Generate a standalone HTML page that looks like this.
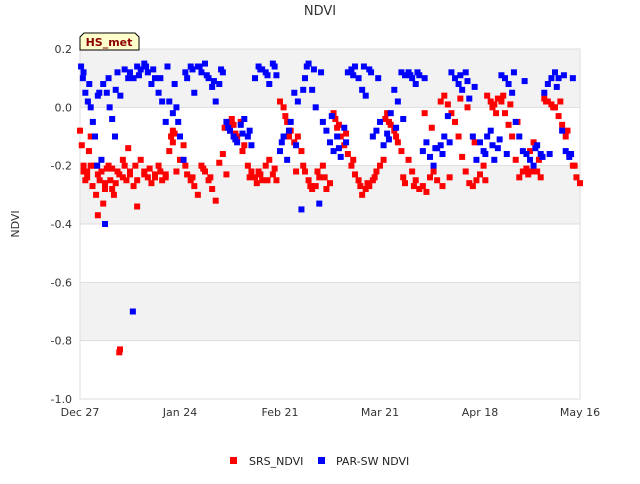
<!DOCTYPE html>
<html><head><meta charset="utf-8"><style>
body{margin:0;background:#fff;font-family:"DejaVu Sans","Liberation Sans",sans-serif;}
svg text{font-family:"DejaVu Sans","Liberation Sans",sans-serif;}
</style></head><body>
<svg id="c" width="640" height="480" xmlns="http://www.w3.org/2000/svg">
<text x="320" y="15" text-anchor="middle" font-size="13" fill="#333">NDVI</text>
<text x="19" y="224" text-anchor="middle" font-size="11" fill="#333" transform="rotate(-90 19 224)">NDVI</text>
<g id="bands"></g><g id="grid"></g><g id="pts"></g><g id="axes"></g>
<g>
<path d="M84,33 L135,33 L139,37 L139,50 L80,50 L80,37 Z" fill="#ffffcc" stroke="#000" stroke-width="1"/>
<text x="109" y="46" text-anchor="middle" font-size="11" font-weight="bold" fill="#8b0000">HS_met</text>
</g>
<g>
<rect x="230" y="457" width="7" height="7" fill="#f00"/>
<text x="249" y="465" font-size="11" fill="#222">SRS_NDVI</text>
<rect x="318" y="457" width="7" height="7" fill="#00f"/>
<text x="336" y="465" font-size="11" fill="#222">PAR-SW NDVI</text>
</g>
</svg>
<script>
const yTicks=[0.2,0,-0.2,-0.4,-0.6,-0.8,-1.0];
const xTickLabels=["Dec 27","Jan 24","Feb 21","Mar 21","Apr 18","May 16"];
const xTickDays=[0,28,56,84,112,140];
const srsDays=[0,0.5,1,1.5,2,2.5,3,3.5,4,4.5,5,5.5,6,6.5,7,7.5,8,8.5,9,9.5,10,10.5,11,11.2,11,12,12.5,13,13.5,14,15,15.5,16,17,18,19,20,21,22,23,24,25,25.5,26,26.5,27,28,29,30,31,33,34,35,36,37,38,39,40,41,42,42.5,43,44,45,46,47,48,49,49.5,50,51,52,53,54,55,56,57,58,59,60,61,62,62.5,63,64,65,66,67,68,70,71,71.5,72,73,74,75,76,77,78,79,80,81,82,83,84,85,85.5,86,87,88,89,90,92,93,94,95,96,97,98,99,100,101,102,103,104,105,106,107,108,109,110,111,112,113,114,115,115.5,116,117,118,119,120,121,122,123,124,125,125.5,126,127,128,129,130,131,132,133,134,135,136,137,138,139,140];
const srsValues=[-0.08,-0.13,-0.2,-0.25,-0.22,-0.15,-0.1,-0.27,-0.2,-0.3,-0.37,-0.25,-0.22,-0.33,-0.28,-0.21,-0.2,-0.25,-0.28,-0.3,-0.26,-0.22,-0.84,-0.83,-0.23,-0.18,-0.2,-0.25,-0.14,-0.23,-0.27,-0.2,-0.34,-0.18,-0.22,-0.24,-0.26,-0.23,-0.2,-0.25,-0.24,-0.15,-0.1,-0.08,-0.09,-0.22,-0.18,-0.13,-0.23,-0.25,-0.3,-0.2,-0.22,-0.25,-0.28,-0.32,-0.19,-0.16,-0.23,-0.08,-0.04,-0.06,-0.1,-0.05,-0.13,-0.2,-0.22,-0.24,-0.26,-0.22,-0.25,-0.2,-0.18,-0.23,-0.25,0.02,0.0,-0.05,-0.08,-0.12,-0.1,-0.15,-0.2,-0.22,-0.25,-0.28,-0.27,-0.24,-0.2,-0.26,-0.02,-0.04,-0.07,-0.1,-0.13,-0.16,-0.2,-0.23,-0.25,-0.3,-0.28,-0.27,-0.25,-0.22,-0.2,-0.18,-0.04,-0.02,-0.06,-0.08,-0.12,-0.15,-0.18,-0.22,-0.25,-0.28,-0.27,-0.29,-0.24,-0.22,-0.25,0.02,0.04,0.01,-0.02,-0.05,-0.1,-0.17,-0.22,-0.26,-0.27,-0.25,-0.23,-0.2,0.04,0.02,0.0,0.01,0.03,0.02,-0.02,-0.06,-0.1,-0.18,-0.24,-0.22,-0.21,-0.23,-0.15,-0.12,-0.22,-0.24,0.03,0.02,0.01,0.0,-0.03,-0.06,-0.1,-0.16,-0.2,-0.24,-0.26,-0.22,-0.19,-0.25,-0.21];
const srsExtraDays=[1,2,3,5,7,9,12,14,16,18,19.5,21,22.5,24,26,29.5,31.5,32,34.5,36.5,40.5,41.5,43.5,45.5,47.5,50.5,52.5,54.5,57.5,58.5,60.5,64.5,66.5,68.5,69,72.5,74.5,76.5,78.5,80.5,82.5,86.5,88.5,90.5,91,93.5,96.5,98.5,101.5,103.5,106.5,108.5,110.5,113.5,116.5,118.5,120.5,122.5,126.5,128.5,130.5,132.5,134.5,136.5,138.5];
const srsExtraValues=[-0.22,-0.24,-0.2,-0.23,-0.26,-0.21,-0.24,-0.22,-0.25,-0.23,-0.21,-0.24,-0.22,-0.23,-0.12,-0.2,-0.24,-0.27,-0.21,-0.24,-0.07,-0.05,-0.09,-0.15,-0.24,-0.23,-0.25,-0.21,-0.03,-0.1,-0.22,-0.27,-0.22,-0.24,-0.28,-0.06,-0.09,-0.18,-0.27,-0.26,-0.24,-0.05,-0.1,-0.24,-0.26,-0.27,-0.02,-0.07,-0.27,-0.24,0.03,0.0,-0.12,-0.25,-0.02,0.04,0.01,-0.05,-0.22,-0.18,0.02,0.0,0.02,-0.08,-0.2];
const parDays=[0.3,0.8,1.5,2.2,3,3.6,4.2,4.8,5.4,6,6.5,7.5,8.3,9,9.8,10.5,11.3,7,14.8,14,15,16,17,18,19,20,21,22,23,24,25,26,27,27.5,28,29,30,31,32,33,34,35,36,37,38,39,40,41,42,43,44,45,46,47,47.5,48,49,50,51,52,53,54,55,56,56.5,57,58,59,60,61,62,63,63.5,64,65,66,67,68,69,70,71,72,73,74,75,76,77,78,79,80,81,82,83,84,85,86,87,88,89,90,91,92,93,94,95,96,97,98,99,100,101,102,103,104,105,106,107,108,109,110,111,112,113,114,115,116,117,118,119,120,121,122,123,124,125,126,127,128,129,130,131,132,133,134,135,136,137,138,139];
const parValues=[0.14,0.1,0.05,0.02,0.0,-0.05,-0.1,-0.2,0.05,-0.18,0.08,0.05,0.0,-0.04,-0.1,0.12,0.04,-0.4,-0.7,0.12,0.1,0.14,0.13,0.15,0.12,0.08,0.1,0.05,0.02,-0.05,0.02,-0.02,0.0,-0.05,-0.1,-0.18,0.1,0.14,0.05,0.14,0.12,0.15,0.1,0.07,0.02,0.08,0.12,-0.05,-0.08,-0.1,-0.12,-0.06,-0.04,-0.1,-0.08,-0.13,0.1,0.14,0.13,0.12,0.08,0.15,0.11,-0.15,-0.12,-0.1,-0.18,-0.05,0.05,0.02,-0.35,0.1,0.14,0.15,0.06,0.0,-0.33,-0.05,-0.08,-0.12,-0.15,-0.1,-0.17,-0.07,0.12,0.13,0.14,0.1,0.06,0.04,0.13,-0.1,-0.08,-0.05,-0.13,-0.09,-0.02,0.06,0.02,0.12,0.11,0.12,0.1,0.08,0.11,-0.15,-0.12,-0.17,-0.2,-0.14,-0.13,-0.1,-0.03,0.12,0.1,0.08,0.06,0.12,0.03,-0.1,-0.18,-0.12,-0.15,-0.1,-0.08,-0.18,-0.14,0.11,0.1,0.08,0.05,-0.05,-0.1,-0.15,-0.16,-0.18,-0.2,-0.13,-0.16,0.05,0.08,0.1,0.12,0.1,-0.08,-0.15,-0.17,0.1];
const parExtraDays=[1,2.6,5,8,10,12.5,13.5,16.5,18.5,20.5,22.5,24.5,26.5,29.5,31.5,33.5,35.5,37.5,39.5,41.5,43.5,45.5,50.5,52.5,54.5,58.5,60.5,62.5,65.5,67.5,70.5,72.5,74.5,76.5,79.5,81.5,83.5,86.5,88.5,90.5,92.5,94.5,96.5,99.5,101.5,103.5,106.5,108.5,110.5,113.5,115.5,117.5,119.5,121.5,124.5,127.5,129.5,131.5,133.5,135.5,137.5];
const parExtraValues=[0.12,0.08,0.04,0.1,0.06,0.13,0.1,0.11,0.14,0.13,0.1,0.14,0.08,0.12,0.13,0.14,0.11,0.09,0.13,-0.07,-0.11,-0.09,0.13,0.11,0.14,-0.08,-0.13,0.06,0.13,0.12,-0.03,-0.14,-0.12,0.11,0.14,0.12,0.1,-0.11,-0.07,-0.04,0.11,0.12,0.1,-0.14,-0.16,-0.12,0.11,0.09,0.07,-0.16,-0.13,-0.11,-0.16,0.12,0.09,-0.14,-0.17,-0.16,0.07,0.11,-0.16];

const X0=80,X1=580,Y0=49,Y1=399;
const xs=d=>X0+d*(X1-X0)/140;
const ys=v=>Y0+(0.2-v)*(Y1-Y0)/1.2;
const NS="http://www.w3.org/2000/svg";
function mk(tag,attrs,parent){const e=document.createElementNS(NS,tag);for(const k in attrs)e.setAttribute(k,attrs[k]);document.getElementById(parent).appendChild(e);return e;}
for(let i=0;i<yTicks.length-1;i+=2){
  const b=mk('rect',{x:X0,y:ys(yTicks[i]),width:X1-X0,height:ys(yTicks[i+1])-ys(yTicks[i]),fill:'#f2f2f2'},'bands');
  
  
}
yTicks.forEach(t=>{
  const l=mk('line',{x1:X0,x2:X1,y1:ys(t),y2:ys(t),stroke:'#ddd'},'grid');
  
  
  const tx=mk('text',{x:X0-8,y:ys(t)+4,'text-anchor':'end','font-size':'11',fill:'#333'},'axes');
  tx.textContent=t.toFixed(1);
  
  
});
mk('rect',{x:X0,y:Y0,width:X1-X0,height:Y1-Y0,fill:'none',stroke:'#ddd'},'grid');
xTickDays.forEach((d,i)=>{
  const tx=mk('text',{x:xs(d),y:Y1+17,'text-anchor':'middle','font-size':'11',fill:'#333'},'axes');
  tx.textContent=xTickLabels[i];
  
  
});
function plot(days,vals,color,name){
  const n=Math.min(days.length,vals.length);
  for(let i=0;i<n;i++){
    const d=days[i],v=vals[i];
    if(d<0||d>140||v>0.2||v<-1) continue;
    const r=mk('rect',{x:xs(d)-3,y:ys(v)-3,width:6,height:6,fill:color},'pts');
    
    
  }
}
plot(srsDays,srsValues,'#f00','srs-ndvi-point');
plot(srsExtraDays,srsExtraValues,'#f00','srs-ndvi-point');
plot(parDays,parValues,'#00f','par-sw-ndvi-point');
plot(parExtraDays,parExtraValues,'#00f','par-sw-ndvi-point');
</script>
</body></html>
